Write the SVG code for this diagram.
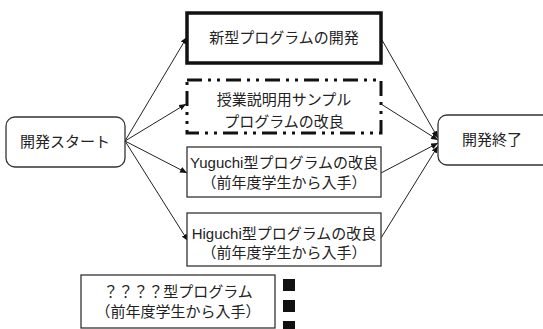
<svg xmlns="http://www.w3.org/2000/svg" width="543" height="329" viewBox="0 0 543 329">
<style>
text{font-family:"Liberation Sans","Noto Sans CJK JP",sans-serif;font-size:15px;fill:#222;text-anchor:middle}
.box{fill:#fff;stroke:#333;stroke-width:1.3}
.rnd{fill:#fff;stroke:#333;stroke-width:1.3}
.cn{stroke:#222;stroke-width:1;fill:none;marker-end:url(#ah)}
</style>
<defs>
<marker id="ah" markerUnits="userSpaceOnUse" markerWidth="8" markerHeight="6" refX="7" refY="3" orient="auto">
<path d="M0,0 L7,3 L0,6 Z" fill="#111"/>
</marker>
</defs>
<g id="connectors">
<line class="cn" x1="125" y1="141" x2="187" y2="37"/>
<line class="cn" x1="125" y1="141" x2="186" y2="104"/>
<line class="cn" x1="125" y1="141" x2="187" y2="173"/>
<line class="cn" x1="125" y1="141" x2="188" y2="241"/>
<line class="cn" x1="382" y1="40" x2="438" y2="138"/>
<line class="cn" x1="381" y1="104" x2="438" y2="140"/>
<line class="cn" x1="381" y1="173" x2="438" y2="143"/>
<line class="cn" x1="381" y1="238" x2="438" y2="146"/>
</g>
<g id="start">
<rect class="rnd" x="6" y="117" width="119" height="50" rx="9"/>
<text x="65" y="147">開発スタート</text>
</g>
<g id="end">
<rect class="rnd" x="438" y="115" width="115" height="50" rx="9"/>
<text x="492" y="145">開発終了</text>
</g>
<g id="new">
<rect x="187" y="13" width="194" height="50" fill="#fff" stroke="#111" stroke-width="3.5"/>
<text x="284" y="43">新型プログラムの開発</text>
</g>
<g id="sample">
<rect x="187" y="80" width="194" height="53" fill="#fff" stroke="#111" stroke-width="3" stroke-dasharray="15 6 3 6 3 6"/>
<text x="284" y="105">授業説明用サンプル</text>
<text x="284" y="127">プログラムの改良</text>
</g>
<g id="yuguchi">
<rect class="box" x="187" y="147" width="194" height="50"/>
<text x="284" y="168">Yuguchi型プログラムの改良</text>
<text x="284" y="188">（前年度学生から入手）</text>
</g>
<g id="higuchi">
<rect class="box" x="187" y="213" width="194" height="53"/>
<text x="284" y="239">Higuchi型プログラムの改良</text>
<text x="284" y="258">（前年度学生から入手）</text>
</g>
<g id="unknown">
<rect class="box" x="81" y="275" width="194" height="53"/>
<text x="178" y="297">？？？？型プログラム</text>
<text x="178" y="317">（前年度学生から入手）</text>
</g>
<g id="dots">
<rect x="283" y="279" width="12" height="12" fill="#111"/>
<rect x="283" y="300" width="12" height="12" fill="#111"/>
<rect x="283" y="321" width="12" height="12" fill="#111"/>
</g>
</svg>
